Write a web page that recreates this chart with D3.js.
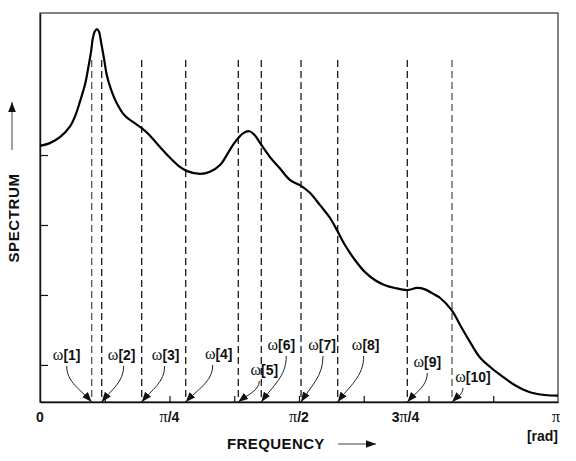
<!DOCTYPE html>
<html>
<head>
<meta charset="utf-8">
<script src="https://cdn.jsdelivr.net/npm/d3@7"></script>
<style>
body { margin: 0; background: #fff; }
text { font-family: "Liberation Sans", Arial, sans-serif; font-weight: bold; fill: #111; }
.greek { font-family: "Liberation Serif", "Times New Roman", serif; font-weight: normal; }
</style>
</head>
<body>
<script>
// frequenza in unità di pi (0..1)
var freq = [0, 0.019, 0.039, 0.058, 0.068, 0.077, 0.087, 0.093, 0.099, 0.102, 0.106, 0.110, 0.114, 0.118,
  0.124, 0.129, 0.137, 0.149, 0.164, 0.180, 0.197, 0.212, 0.232, 0.251, 0.270, 0.284, 0.309, 0.328,
  0.348, 0.363, 0.376, 0.392, 0.404, 0.415, 0.425, 0.444, 0.463, 0.483, 0.504, 0.521, 0.541, 0.560,
  0.573, 0.589, 0.608, 0.627, 0.647, 0.666, 0.685, 0.709, 0.728, 0.743, 0.763, 0.772, 0.795, 0.811,
  0.830, 0.849, 0.869, 0.888, 0.917, 0.946, 0.975, 1.0];
var spectrum = [3.13, 3.17, 3.26, 3.41, 3.56, 3.76, 4.01, 4.24, 4.50, 4.67, 4.77, 4.80, 4.76, 4.61,
  4.36, 4.14, 3.94, 3.73, 3.56, 3.47, 3.38, 3.28, 3.11, 2.96, 2.83, 2.77, 2.73, 2.76,
  2.86, 3.03, 3.18, 3.31, 3.34, 3.28, 3.17, 2.97, 2.81, 2.64, 2.56, 2.46, 2.28, 2.10,
  1.93, 1.71, 1.50, 1.33, 1.21, 1.14, 1.10, 1.07, 1.10, 1.08, 1.00, 0.96, 0.78, 0.57,
  0.33, 0.11, -0.03, -0.14, -0.29, -0.39, -0.43, -0.44];

// frequenze omega[k] (unità di pi)
var omegaFreq = [0.0998, 0.1191, 0.1963, 0.2813, 0.3828, 0.4272, 0.5039, 0.5747, 0.7091, 0.7954];
var omegaNames = ["1", "2", "3", "4", "5", "6", "7", "8", "9", "10"];

var xTickValues = [0, 0.25, 0.5, 0.75, 1];
var xTickLabels = [["0"], ["π", "/4"], ["π", "/2"], ["3", "π", "/4"], ["π"]];
var yTickValues = [0, 1, 2, 3];

// posizione delle etichette omega: spostamento x dal tratteggio, baseline, spostamento x inizio freccia
var labelLayout = [[-25, 360, 0], [20, 360, 2], [24, 360, -1], [33, 359, -6], [26, 375, -5],
  [20, 350, 5], [21, 350, 1], [28, 350, -2], [20, 367, 0], [21, 382, -10]];

var W = 576, H = 461;
var margin = {top: 13, right: 18, bottom: 59, left: 40};

var svg = d3.select("body").append("svg")
  .attr("width", W)
  .attr("height", H);

var defs = svg.append("defs");
defs.append("marker")
  .attr("id", "head")
  .attr("markerUnits", "userSpaceOnUse")
  .attr("viewBox", "0 -4 10 8")
  .attr("refX", 10).attr("refY", 0)
  .attr("markerWidth", 10).attr("markerHeight", 8)
  .attr("orient", "auto")
  .append("path")
  .attr("d", "M0,-3.8L10,0L0,3.8Z")
  .attr("fill", "#111");

var x = d3.scaleLinear().domain([0, 1]).range([margin.left, W - margin.right]);
var y = d3.scaleLinear().domain([-0.53, 5.03]).range([H - margin.bottom, margin.top]);

// cornice
svg.append("rect")
  .attr("x", x(0)).attr("y", y(5.03))
  .attr("width", x(1) - x(0)).attr("height", y(-0.53) - y(5.03))
  .attr("fill", "none").attr("stroke", "#333").attr("stroke-width", 1.2);

// assi
svg.append("g")
  .attr("transform", "translate(0," + y(-0.53) + ")")
  .call(d3.axisBottom(x).tickValues(d3.range(1, 8).map(function(k){ return k / 8; }))
    .tickSizeInner(-6).tickSizeOuter(0).tickFormat(""))
  .call(function(g){
    g.select(".domain").attr("stroke", "#111").attr("stroke-width", 1.6);
    g.selectAll(".tick line").attr("stroke", "#111").attr("stroke-width", 1.2);
  });

svg.append("g")
  .attr("transform", "translate(" + x(0) + ",0)")
  .call(d3.axisLeft(y).tickValues(yTickValues).tickSizeInner(-8).tickSizeOuter(0).tickFormat(""))
  .call(function(g){
    g.select(".domain").attr("stroke", "#111").attr("stroke-width", 1.4);
    g.selectAll(".tick line").attr("stroke", "#111").attr("stroke-width", 1.2);
  });

// etichette asse x
var labelShift = [0, 0, 0, -23, -2];
xTickValues.forEach(function(v, i){
  var t = svg.append("text")
    .attr("x", x(v) + labelShift[i])
    .attr("y", 422)
    .attr("text-anchor", "middle")
    .style("font-size", "14px");
  xTickLabels[i].forEach(function(part){
    var ts = t.append("tspan").text(part);
    if (part === "π") ts.attr("class", "greek").style("font-size", "16px");
  });
});

svg.append("text")
  .attr("x", x(1)).attr("y", 441)
  .attr("text-anchor", "end")
  .style("font-size", "14px")
  .text("[rad]");

svg.append("text")
  .attr("x", 227).attr("y", 449)
  .style("font-size", "15px")
  .style("letter-spacing", "0.4px")
  .text("FREQUENCY");

svg.append("line")
  .attr("x1", 338).attr("y1", 444).attr("x2", 376).attr("y2", 444)
  .attr("stroke", "#444").attr("stroke-width", 1)
  .attr("marker-end", "url(#head)");

svg.append("text")
  .attr("transform", "translate(19,218) rotate(-90)")
  .attr("text-anchor", "middle")
  .style("font-size", "15px")
  .style("letter-spacing", "0.6px")
  .text("SPECTRUM");

svg.append("line")
  .attr("x1", 12).attr("y1", 150).attr("x2", 12).attr("y2", 102)
  .attr("stroke", "#444").attr("stroke-width", 1)
  .attr("marker-end", "url(#head)");

// linee tratteggiate
svg.selectAll(".omega-line")
  .data(omegaFreq)
  .enter().append("line")
  .attr("class", "omega-line")
  .attr("x1", function(d){ return x(d); })
  .attr("x2", function(d){ return x(d); })
  .attr("y1", y(4.36))
  .attr("y2", y(-0.53))
  .attr("stroke", function(d, i){ return (i === 0 || i === 9) ? "#555" : "#1a1a1a"; })
  .attr("stroke-width", 1.3)
  .attr("stroke-dasharray", "7,4");

// spettro
var line = d3.line()
  .x(function(d){ return x(d[0]); })
  .y(function(d){ return y(d[1]); })
  .curve(d3.curveCatmullRom.alpha(0.5));

svg.append("path")
  .datum(d3.zip(freq, spectrum))
  .attr("d", line)
  .attr("fill", "none")
  .attr("stroke", "#000")
  .attr("stroke-width", 2.2)
  .attr("stroke-linejoin", "round");

// etichette omega con frecce curve
omegaFreq.forEach(function(f, i){
  var L = labelLayout[i];
  var tx = x(f), ty = y(-0.53);
  var cx = tx + L[0];
  var t = svg.append("text")
    .attr("x", cx).attr("y", L[1])
    .attr("text-anchor", "middle")
    .style("font-size", "14px");
  t.append("tspan").attr("class", "greek").style("font-size", "16px").text("ω");
  t.append("tspan").text("[" + omegaNames[i] + "]");

  var sx = cx + L[2], sy = L[1] + 6;
  var dir = sx > tx ? 1 : -1;
  var p = d3.path();
  p.moveTo(sx, sy);
  p.bezierCurveTo(sx, sy + (ty - sy) * 0.45,
    tx + dir * Math.abs(sx - tx) * 0.45, ty - (ty - sy) * 0.35,
    tx, ty);
  svg.append("path")
    .attr("d", p.toString())
    .attr("fill", "none")
    .attr("stroke", "#222")
    .attr("stroke-width", 1)
    .attr("marker-end", "url(#head)");
});
</script>
</body>
</html>
